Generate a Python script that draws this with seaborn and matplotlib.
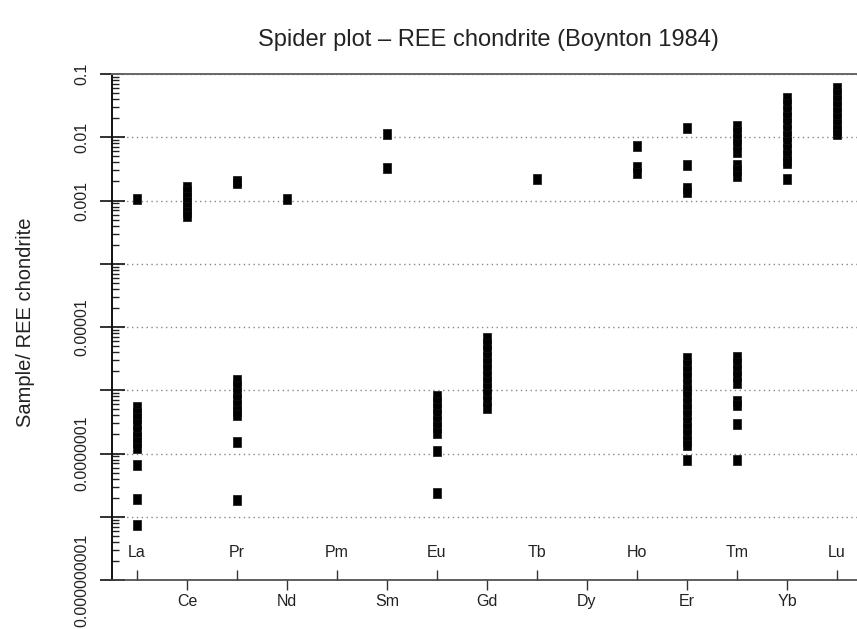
import matplotlib
matplotlib.use("Agg")
import matplotlib.pyplot as plt
import matplotlib.ticker as mticker
import seaborn as sns
import pandas as pd

elements = ["La", "Ce", "Pr", "Nd", "Pm", "Sm", "Eu", "Gd", "Tb", "Dy",
            "Ho", "Er", "Tm", "Yb", "Lu"]

la = [1.07e-3, 5.5e-7, 4.4e-7, 3.6e-7, 2.9e-7, 2.3e-7, 1.85e-7, 1.5e-7, 1.2e-7,
      6.6e-8, 1.9e-8, 7.5e-9]
ce = [1.66e-3, 1.4e-3, 1.15e-3, 9.5e-4, 8.0e-4, 6.7e-4, 5.7e-4]
pr = [2.0e-3, 1.9e-3, 1.45e-6, 1.15e-6, 9.2e-7, 7.3e-7, 5.8e-7, 4.7e-7, 4.0e-7,
      1.5e-7, 1.85e-8]
nd = [1.07e-3]
pm = []
sm = [1.12e-2, 3.24e-3]
eu = [8.1e-7, 6.5e-7, 5.2e-7, 4.2e-7, 3.3e-7, 2.6e-7, 2.1e-7, 1.1e-7, 2.35e-8]
gd = [6.7e-6, 5.4e-6, 4.3e-6, 3.4e-6, 2.7e-6, 2.15e-6, 1.7e-6, 1.35e-6, 1.08e-6,
      8.6e-7, 6.8e-7, 5.2e-7]
tb = [2.2e-3]
dy = []
ho = [7.3e-3, 3.4e-3, 2.7e-3]
er = [1.41e-2, 3.6e-3, 1.6e-3, 1.38e-3,
      3.2e-6, 2.55e-6, 2.0e-6, 1.6e-6, 1.27e-6, 1.0e-6, 8.0e-7, 6.4e-7, 5.1e-7,
      4.0e-7, 3.2e-7, 2.55e-7, 2.0e-7, 1.6e-7, 1.37e-7, 7.9e-8]
tm = [1.5e-2, 1.2e-2, 9.3e-3, 7.8e-3, 5.9e-3, 3.6e-3, 3.0e-3, 2.4e-3,
      3.4e-6, 2.7e-6, 2.1e-6, 1.65e-6, 1.3e-6, 6.7e-7, 5.9e-7, 2.9e-7, 7.9e-8]
yb = [4.1e-2, 3.3e-2, 2.6e-2, 2.1e-2, 1.65e-2, 1.3e-2, 1.04e-2, 8.3e-3, 6.6e-3,
      5.2e-3, 4.2e-3, 3.9e-3, 2.2e-3]
lu = [6.1e-2, 4.9e-2, 3.9e-2, 3.1e-2, 2.5e-2, 2.0e-2, 1.6e-2, 1.28e-2, 1.13e-2]

series = [la, ce, pr, nd, pm, sm, eu, gd, tb, dy, ho, er, tm, yb, lu]

ytick_values = [1e-9, 1e-8, 1e-7, 1e-6, 1e-5, 1e-4, 1e-3, 1e-2, 1e-1]
ytick_labels = ["0.000000001", "", "0.0000001", "", "0.00001", "", "0.001",
                "0.01", "0.1"]

title = "Spider plot \u2013 REE chondrite (Boynton 1984)"
ylabel = "Sample/ REE chondrite"

rows = []
for i, (el, vals) in enumerate(zip(elements, series)):
    for v in vals:
        rows.append({"element": el, "pos": i, "value": v})
df = pd.DataFrame(rows)

sns.set_theme(style="white")
plt.rcParams["font.family"] = ["Liberation Sans", "DejaVu Sans"]

fig = plt.figure(figsize=(8.57, 6.29), dpi=100)
ax = fig.add_axes([112 / 857, 1 - 580 / 629, (857 - 112) / 857, (580 - 74) / 629])

rect = [(-0.36, -0.5), (0.36, -0.5), (0.36, 0.5), (-0.36, 0.5), (-0.36, -0.5)]
sns.scatterplot(data=df, x="pos", y="value", ax=ax, marker=rect, s=58,
                color="black", edgecolor="#111111", linewidth=0.5, zorder=3,
                legend=False)

ax.set_yscale("log")
ax.set_ylim(1e-9, 1e-1)
ax.set_xlim(-0.5, 14.4)

# y ticks
ax.set_yticks(ytick_values)
ax.set_yticklabels(ytick_labels, rotation=90, va="center", fontsize=11.5,
                   color="#222222")
ax.yaxis.set_minor_locator(mticker.LogLocator(base=10, subs=range(2, 10), numticks=50))
ax.yaxis.set_minor_formatter(mticker.NullFormatter())
ax.tick_params(axis="y", which="major", direction="inout", length=18, width=1.3,
               color="#222222", pad=7, left=True)
ax.tick_params(axis="y", which="minor", direction="in", length=5, width=1.0,
               color="#222222", left=True)

# x ticks: even positions outside, odd positions inside
outer_pos = [i for i in range(len(elements)) if i % 2 == 1]
inner_pos = [i for i in range(len(elements)) if i % 2 == 0]
ax.xaxis.set_major_locator(mticker.FixedLocator(outer_pos))
ax.xaxis.set_major_formatter(mticker.FixedFormatter([elements[i] for i in outer_pos]))
ax.xaxis.set_minor_locator(mticker.FixedLocator(inner_pos))
ax.xaxis.set_minor_formatter(mticker.FixedFormatter([elements[i] for i in inner_pos]))
ax.tick_params(axis="x", which="major", direction="out", length=7, width=1.0,
               color="#333333", labelsize=11.5, labelcolor="#222222", pad=3,
               bottom=True)
ax.tick_params(axis="x", which="minor", direction="in", length=7, width=1.0,
               color="#333333", labelsize=11.5, labelcolor="#222222", pad=-25,
               bottom=True)

ax.set_xlabel("")
ax.set_ylabel("")

# grid
ax.grid(False)
ax.yaxis.grid(True, which="major", linestyle=(0, (1, 2.5)), color="#888888",
              linewidth=1.0, zorder=0)
ax.set_axisbelow(True)

ax.spines["right"].set_visible(False)
ax.spines["left"].set_color("#111111")
ax.spines["left"].set_linewidth(1.4)
ax.spines["bottom"].set_color("#444444")
ax.spines["bottom"].set_linewidth(1.2)
ax.spines["top"].set_color("#666666")
ax.spines["top"].set_linewidth(1.4)

fig.text(488 / 857, 1 - 40 / 629, title, ha="center", va="center", fontsize=17,
         color="#222222")
fig.text(26 / 857, 1 - 322 / 629, ylabel, ha="center", va="center", rotation=90,
         fontsize=14.5, color="#222222")

fig.savefig("out.png", dpi=100, facecolor="white")
